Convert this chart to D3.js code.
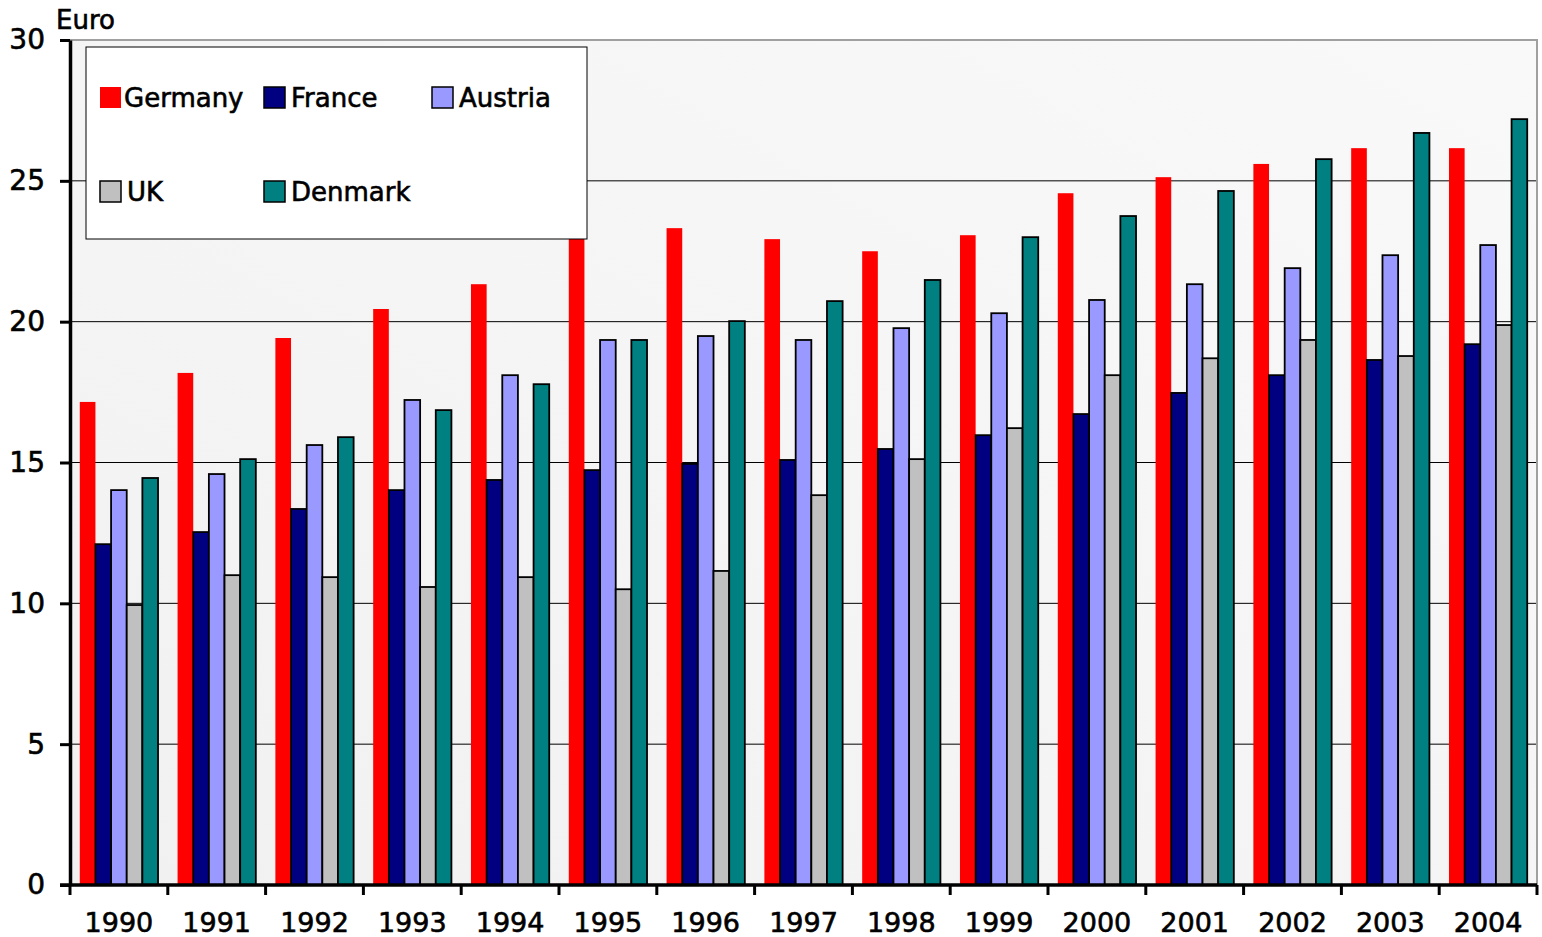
<!DOCTYPE html>
<html>
<head>
<meta charset="utf-8">
<script src="https://cdn.jsdelivr.net/npm/d3@7"></script>
<style>
  body { margin: 0; background: #fff; }
  text { font-family: "DejaVu Sans", sans-serif; stroke: #000; stroke-width: 0.6px; }
</style>
</head>
<body>
<div id="chart"></div>
<script>
var width = 1542;
var height = 937;

var years = ['1990','1991','1992','1993','1994','1995','1996','1997','1998','1999','2000','2001','2002','2003','2004'];
var countries = ['Germany','France','Austria','UK','Denmark'];
var colors = ['#ff0000','#000080','#9999ff','#c0c0c0','#008080'];

var germany = [17.15,18.18,19.42,20.45,21.33,23.1,23.32,22.93,22.5,23.07,24.56,25.13,25.6,26.16,26.16];
var france  = [12.1,12.53,13.35,14.02,14.38,14.73,14.95,15.09,15.48,15.97,16.72,17.47,18.1,18.64,19.2];
var austria = [14.02,14.59,15.62,17.22,18.1,19.35,19.49,19.35,19.77,20.3,20.77,21.33,21.9,22.36,22.72];
var uk      = [9.94,11.0,10.93,10.58,10.93,10.5,11.15,13.84,15.12,16.22,18.1,18.7,19.35,18.78,19.88];
var denmark = [14.45,15.12,15.9,16.86,17.78,19.35,20.02,20.73,21.48,23.0,23.75,24.64,25.77,26.7,27.19];

var series = [germany, france, austria, uk, denmark];
var yTicks = [0,5,10,15,20,25,30];

var plotLeft = 70, plotRight = 1537, plotTop = 40, plotBottom = 885;

var svg = d3.select('#chart').append('svg')
    .attr('width', width)
    .attr('height', height);

var defs = svg.append('defs');
var grad = defs.append('linearGradient')
    .attr('id', 'bg')
    .attr('x1', '0%').attr('y1', '100%')
    .attr('x2', '100%').attr('y2', '0%');
grad.append('stop').attr('offset', '0%').attr('stop-color', '#f1f1f1');
grad.append('stop').attr('offset', '100%').attr('stop-color', '#f9f9f9');

var x = d3.scaleBand()
    .domain(years)
    .range([plotLeft, plotRight])
    .paddingInner(0.2)
    .paddingOuter(0.1);

var xs = d3.scaleBand()
    .domain(countries)
    .range([0, x.bandwidth()]);

var y = d3.scaleLinear()
    .domain([0, 30])
    .range([plotBottom, plotTop]);

// plot background
svg.append('rect')
    .attr('x', plotLeft).attr('y', plotTop)
    .attr('width', plotRight - plotLeft).attr('height', plotBottom - plotTop)
    .attr('fill', 'url(#bg)');

// gridlines
svg.selectAll('.grid')
    .data(yTicks.filter(function (d) { return d > 0 && d < 30; }))
    .enter().append('line')
    .attr('x1', plotLeft).attr('x2', plotRight)
    .attr('y1', function (d) { return y(d); })
    .attr('y2', function (d) { return y(d); })
    .attr('stroke', '#000')
    .attr('stroke-width', 1);

// top and right border
svg.append('path')
    .attr('d', 'M' + plotLeft + ',' + plotTop + 'H' + plotRight + 'V' + plotBottom)
    .attr('fill', 'none')
    .attr('stroke', '#a0a0a0')
    .attr('stroke-width', 2);

// bars
series.forEach(function (vals, s) {
  svg.append('g').selectAll('rect')
      .data(vals)
      .enter().append('rect')
      .attr('x', function (d, i) { return x(years[i]) + xs(countries[s]); })
      .attr('y', function (d) { return y(d); })
      .attr('width', xs.bandwidth())
      .attr('height', function (d) { return y(0) - y(d); })
      .attr('fill', colors[s])
      .attr('stroke', s === 0 ? 'none' : '#000')
      .attr('stroke-width', 1.8);
});

// y axis
var yAxis = svg.append('g')
    .attr('transform', 'translate(' + plotLeft + ',0)')
    .call(d3.axisLeft(y).tickValues(yTicks).tickSize(10).tickPadding(15).tickSizeOuter(0));
yAxis.select('.domain').attr('stroke-width', 3.5);
yAxis.selectAll('.tick line').attr('stroke-width', 3);
yAxis.selectAll('.tick text')
    .style('font-size', '28px')
    .style('font-family', '"DejaVu Sans", sans-serif')
    .attr('fill', '#000');

// x axis
var xAxis = svg.append('g')
    .attr('transform', 'translate(0,' + plotBottom + ')');
xAxis.append('line')
    .attr('x1', plotLeft - 10).attr('x2', plotRight)
    .attr('stroke', '#000').attr('stroke-width', 3.5);
var bounds = years.map(function (d) { return x(d) - x.step() * x.paddingInner() / 2; });
bounds.push(plotRight);
xAxis.selectAll('.xtick')
    .data(bounds)
    .enter().append('line')
    .attr('x1', function (d) { return d; })
    .attr('x2', function (d) { return d; })
    .attr('y1', 0).attr('y2', 10)
    .attr('stroke', '#000').attr('stroke-width', 3);
xAxis.selectAll('.xlabel')
    .data(years)
    .enter().append('text')
    .attr('x', function (d) { return x(d) + x.bandwidth() / 2; })
    .attr('y', 47)
    .attr('text-anchor', 'middle')
    .style('font-size', '27px')
    .attr('fill', '#000')
    .text(function (d) { return d; });

// axis title
svg.append('text')
    .attr('x', 56).attr('y', 29)
    .style('font-size', '26px')
    .text('Euro');

// legend
var legend = svg.append('g');
legend.append('rect')
    .attr('x', 86).attr('y', 47)
    .attr('width', 501).attr('height', 192)
    .attr('fill', '#fff')
    .attr('stroke', '#000')
    .attr('stroke-width', 1);

var legendX = [100, 264, 432, 100, 264];
var legendY = [97, 97, 97, 191, 191];
countries.forEach(function (c, i) {
  legend.append('rect')
      .attr('x', legendX[i]).attr('y', legendY[i] - 10)
      .attr('width', 21).attr('height', 21)
      .attr('fill', colors[i])
      .attr('stroke', i === 0 ? 'none' : '#000')
      .attr('stroke-width', 1.5);
  legend.append('text')
      .attr('x', legendX[i] + (i === 0 ? 24 : 27))
      .attr('y', legendY[i] + 10)
      .style('font-size', '26px')
      .text(c);
});
</script>
</body>
</html>
